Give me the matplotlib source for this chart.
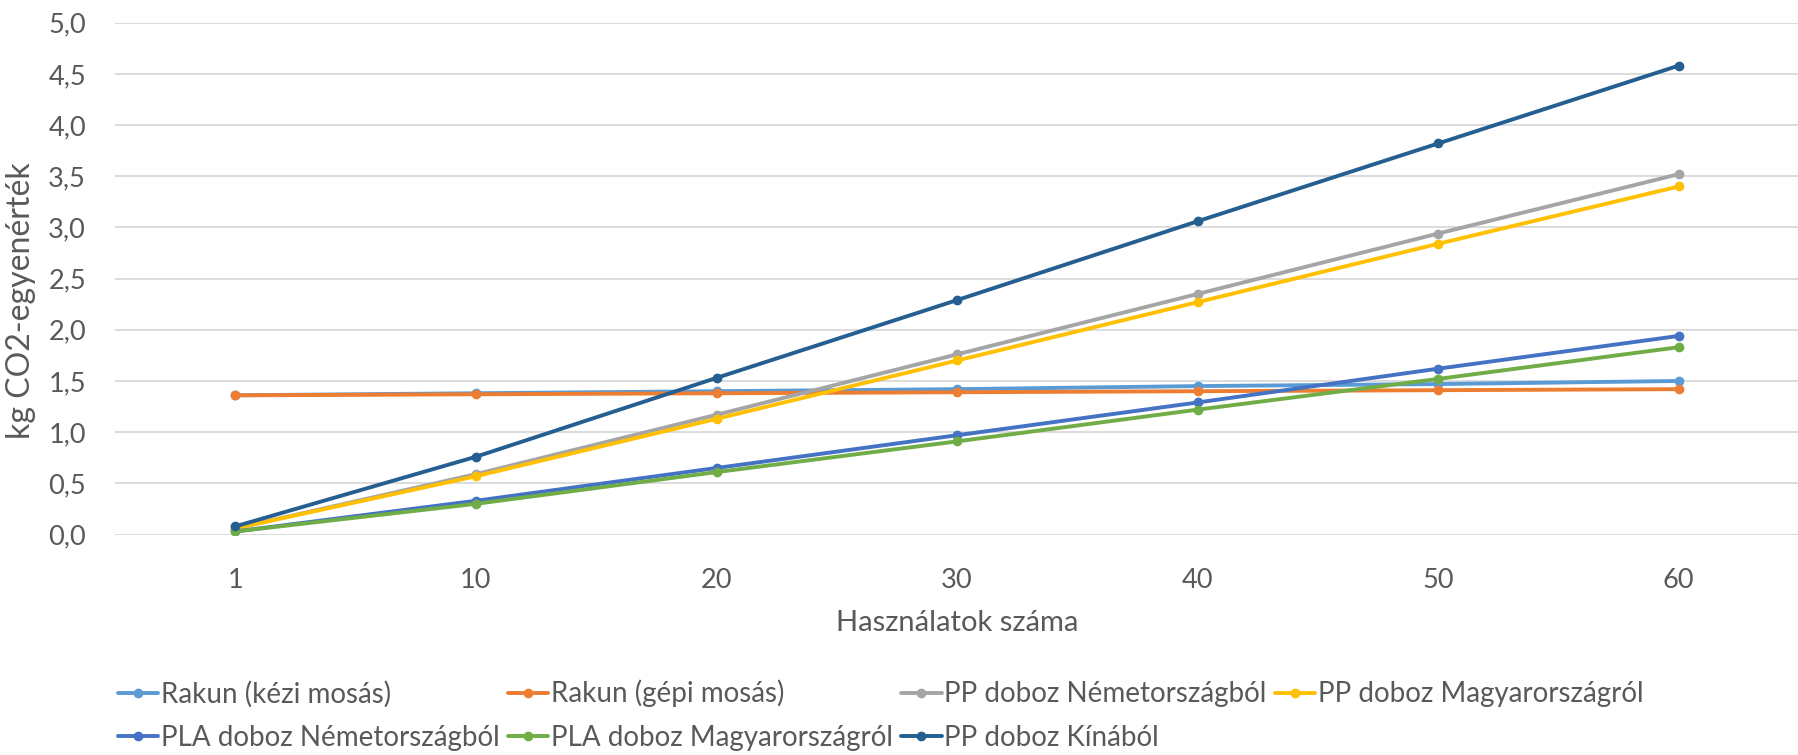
import matplotlib.pyplot as plt
import numpy as np
from matplotlib.ticker import FuncFormatter

uses = ["1", "10", "20", "30", "40", "50", "60"]

rakun_kezi = [1.36, 1.38, 1.40, 1.42, 1.45, 1.47, 1.50]
rakun_gepi = [1.36, 1.37, 1.38, 1.39, 1.40, 1.41, 1.42]
pp_nemet = [0.06, 0.59, 1.17, 1.76, 2.35, 2.94, 3.52]
pp_magyar = [0.06, 0.57, 1.13, 1.70, 2.27, 2.84, 3.40]
pla_nemet = [0.03, 0.33, 0.65, 0.97, 1.29, 1.62, 1.94]
pla_magyar = [0.03, 0.30, 0.61, 0.91, 1.22, 1.52, 1.83]
pp_kina = [0.08, 0.76, 1.53, 2.29, 3.06, 3.82, 4.58]

series = [
    ("Rakun (kézi mosás)", rakun_kezi, "#5B9BD5"),
    ("Rakun (gépi mosás)", rakun_gepi, "#ED7D31"),
    ("PP doboz Németországból", pp_nemet, "#A5A5A5"),
    ("PP doboz Magyarországról", pp_magyar, "#FFC000"),
    ("PLA doboz Németországból", pla_nemet, "#4472C4"),
    ("PLA doboz Magyarországról", pla_magyar, "#70AD47"),
    ("PP doboz Kínából", pp_kina, "#255E91"),
]

plt.rcParams['font.family'] = ['Lato', 'DejaVu Sans']
text_color = "#595959"

fig = plt.figure(figsize=(17.99, 7.55), dpi=100)
ax = fig.add_axes([0.064, 0.292, 0.936, 0.678])

xs = np.arange(len(uses))
lines = []
for name, values, color in series:
    ln, = ax.plot(xs, values, color=color, linewidth=2.8, marker="o", markersize=6,
                  label=name, solid_capstyle="round")
    lines.append(ln)

ax.set_xlim(-0.5, len(uses) - 0.5)
ax.set_ylim(0, 5)
ax.set_yticks(np.arange(0, 5.01, 0.5))
ax.yaxis.set_major_formatter(FuncFormatter(lambda v, p: f"{v:.1f}".replace(".", ",")))
ax.set_xticks(xs)
ax.set_xticklabels(uses)
ax.grid(axis="y", color="#D9D9D9", linewidth=1.3)
ax.set_axisbelow(True)
for s in ax.spines.values():
    s.set_visible(False)
ax.tick_params(length=0, labelsize=19.5, colors=text_color)
ax.tick_params(axis="x", pad=24)
ax.tick_params(axis="y", pad=21)

ax.set_xlabel("Használatok száma", fontsize=21, color=text_color, labelpad=12)
ax.set_ylabel("kg CO2-egyenérték", fontsize=23, color=text_color)
ax.yaxis.set_label_coords(-0.047, 0.457)

# legend reads row by row, matplotlib fills columns first
order = [0, 4, 1, 5, 2, 6, 3]
ax.legend([lines[i] for i in order], [series[i][0] for i in order],
          loc="upper left", bbox_to_anchor=(-0.005, -0.262), ncol=4, frameon=False,
          fontsize=20, labelcolor=text_color, handlelength=1.45, handletextpad=0.1,
          columnspacing=0.3, labelspacing=0.62, borderaxespad=0)

fig.savefig("out.png", dpi=100)
